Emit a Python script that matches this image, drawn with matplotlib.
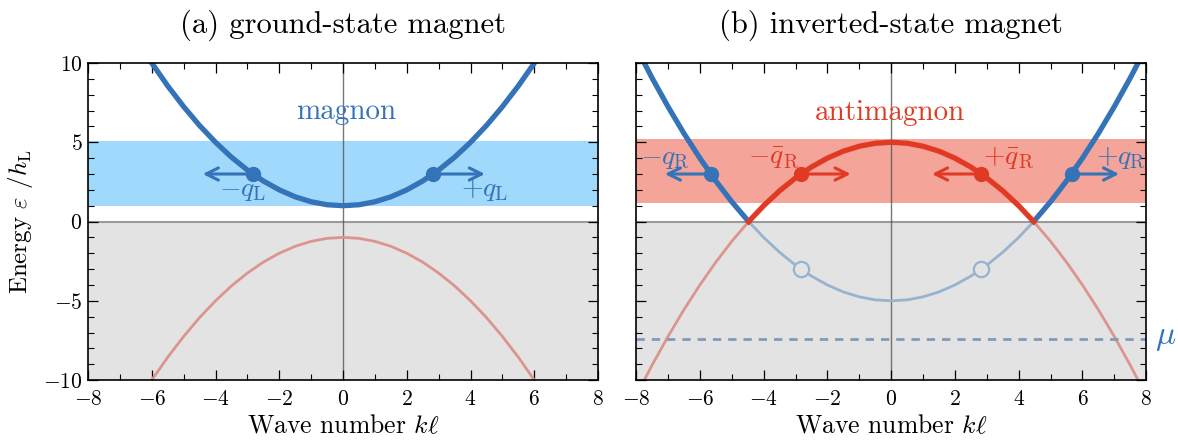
import numpy as np
import matplotlib
matplotlib.use('Agg')
import matplotlib.pyplot as plt
from matplotlib.ticker import MultipleLocator

plt.rcParams['font.family'] = ['cmr10', 'DejaVu Serif']
plt.rcParams['mathtext.fontset'] = 'cm'
plt.rcParams['axes.formatter.use_mathtext'] = True

# ---- data ----
# (a) ground-state magnet
k_left = [-6, -5.5, -5, -4.5, -4, -3.5, -3, -2.5, -2, -1.5, -1, -0.5, 0,
          0.5, 1, 1.5, 2, 2.5, 3, 3.5, 4, 4.5, 5, 5.5, 6]
eps_magnon_left = [10.0, 8.56, 7.25, 6.06, 5.0, 4.06, 3.25, 2.56, 2.0, 1.56, 1.25, 1.06, 1.0,
                   1.06, 1.25, 1.56, 2.0, 2.56, 3.25, 4.06, 5.0, 6.06, 7.25, 8.56, 10.0]
eps_hole_left = [-10.0, -8.56, -7.25, -6.06, -5.0, -4.06, -3.25, -2.56, -2.0, -1.56, -1.25, -1.06, -1.0,
                 -1.06, -1.25, -1.56, -2.0, -2.56, -3.25, -4.06, -5.0, -6.06, -7.25, -8.56, -10.0]
band_left = (1.0, 5.1)
points_left_k = [-2.83, 2.83]
points_left_eps = [3.0, 3.0]

# (b) inverted-state magnet
k_right = [-8, -7.5, -7, -6.5, -6, -5.5, -5, -4.47, -4, -3.5, -3, -2.5, -2, -1.5, -1, -0.5, 0,
           0.5, 1, 1.5, 2, 2.5, 3, 3.5, 4, 4.47, 5, 5.5, 6, 6.5, 7, 7.5, 8]
eps_up_right = [11.0, 9.06, 7.25, 5.56, 4.0, 2.56, 1.25, 0.0, -1.0, -1.94, -2.75, -3.44, -4.0, -4.44, -4.75, -4.94, -5.0,
                -4.94, -4.75, -4.44, -4.0, -3.44, -2.75, -1.94, -1.0, 0.0, 1.25, 2.56, 4.0, 5.56, 7.25, 9.06, 11.0]
eps_down_right = [-11.0, -9.06, -7.25, -5.56, -4.0, -2.56, -1.25, 0.0, 1.0, 1.94, 2.75, 3.44, 4.0, 4.44, 4.75, 4.94, 5.0,
                  4.94, 4.75, 4.44, 4.0, 3.44, 2.75, 1.94, 1.0, 0.0, -1.25, -2.56, -4.0, -5.56, -7.25, -9.06, -11.0]
k_cross = 4.47
band_right = (1.2, 5.2)
mu = -7.4
points_q_k = [-5.66, 5.66]
points_qbar_k = [-2.83, 2.83]
points_up_eps = [3.0, 3.0]
points_hollow_eps = [-3.0, -3.0]

# ---- colours ----
BLUE = '#3473b7'
BLUE_BAND = '#a0d9fb'
BLUE_FAINT = '#98b3d0'
RED = '#e03a24'
RED_BAND = '#f4a498'
RED_FAINT = '#dc958c'
GREY = '#e3e3e3'

fig = plt.figure(figsize=(11.78, 4.44), dpi=100)
ax1 = fig.add_axes([0.0747, 0.144, 0.433, 0.714])
ax2 = fig.add_axes([0.540, 0.144, 0.433, 0.714])


def style(ax):
    ax.set_xlim(-8, 8)
    ax.set_ylim(-10, 10)
    ax.axhspan(-10, 0, color=GREY, zorder=0, lw=0)
    ax.axhline(0, color='#9a9a9a', lw=1.5, zorder=1)
    ax.axvline(0, color='#555555', lw=1.0, alpha=0.8, zorder=1)
    ax.xaxis.set_major_locator(MultipleLocator(2))
    ax.xaxis.set_minor_locator(MultipleLocator(1))
    ax.yaxis.set_major_locator(MultipleLocator(5))
    ax.yaxis.set_minor_locator(MultipleLocator(1))
    ax.tick_params(which='both', direction='in', top=True, right=True, labelsize=15.5)
    ax.tick_params(which='major', length=7, width=0.9)
    ax.tick_params(which='minor', length=4, width=0.8)
    ax.tick_params(axis='x', pad=7)
    ax.tick_params(axis='y', pad=4)
    for s in ax.spines.values():
        s.set_linewidth(1.2)
        s.set_zorder(10)
    ax.set_xlabel(r'Wave number $k\ell$', fontsize=18.5, labelpad=4)


def arrow(ax, start, end, color):
    ax.annotate('', xy=end, xytext=start,
                arrowprops=dict(arrowstyle='->', color=color, lw=2.2,
                                mutation_scale=22, shrinkA=0, shrinkB=0),
                zorder=6)


# ---------- panel (a) ----------
style(ax1)
ax1.axhspan(band_left[0], band_left[1], color=BLUE_BAND, zorder=0.5, lw=0)
ax1.plot(k_left, eps_hole_left, color=RED_FAINT, lw=2, zorder=3)
ax1.plot(k_left, eps_magnon_left, color=BLUE, lw=3.8, zorder=4)
ax1.plot(points_left_k, points_left_eps, 'o', color=BLUE, ms=10, zorder=7)
arrow(ax1, (points_left_k[0], points_left_eps[0]), (-4.4, points_left_eps[0]), BLUE)
arrow(ax1, (points_left_k[1], points_left_eps[1]), (4.45, points_left_eps[1]), BLUE)
ax1.text(-3.15, 2.0, r'$-q_{\mathrm{L}}$', color=BLUE, fontsize=20, ha='center', va='center')
ax1.text(4.45, 2.0, r'$+q_{\mathrm{L}}$', color=BLUE, fontsize=20, ha='center', va='center')
ax1.text(0.1, 6.9, 'magnon', color=BLUE, fontsize=21, ha='center', va='center')
ax1.set_ylabel(r'Energy $\varepsilon$ $/h_{\mathrm{L}}$', fontsize=18, labelpad=6)
ax1.set_title('(a) ground-state magnet', fontsize=22, pad=22)

# ---------- panel (b) ----------
style(ax2)
ax2.axhspan(band_right[0], band_right[1], color=RED_BAND, zorder=0.5, lw=0)
kr = np.array(k_right)
up = np.array(eps_up_right)
down = np.array(eps_down_right)
inner = np.abs(kr) <= k_cross
left_out = kr <= -k_cross
right_out = kr >= k_cross
ax2.plot(kr[inner], up[inner], color=BLUE_FAINT, lw=2, zorder=3)
ax2.plot(kr[left_out], down[left_out], color=RED_FAINT, lw=2, zorder=3)
ax2.plot(kr[right_out], down[right_out], color=RED_FAINT, lw=2, zorder=3)
ax2.plot(kr[left_out], up[left_out], color=BLUE, lw=3.8, zorder=4)
ax2.plot(kr[right_out], up[right_out], color=BLUE, lw=3.8, zorder=4)
ax2.plot(kr[inner], down[inner], color=RED, lw=3.8, zorder=4)
ax2.axhline(mu, color='#7e9bbb', lw=2, ls=(0, (3, 2.5)), zorder=3)
ax2.plot(points_qbar_k, points_hollow_eps, 'o', ms=11, mfc=GREY, mec=BLUE_FAINT, mew=1.6, zorder=7)
ax2.plot(points_q_k, points_up_eps, 'o', color=BLUE, ms=10, zorder=7)
ax2.plot(points_qbar_k, points_up_eps, 'o', color=RED, ms=10, zorder=7)
arrow(ax2, (points_q_k[0], 3.0), (-7.1, 3.0), BLUE)
arrow(ax2, (points_q_k[1], 3.0), (7.15, 3.0), BLUE)
arrow(ax2, (points_qbar_k[0], 3.0), (-1.27, 3.0), RED)
arrow(ax2, (points_qbar_k[1], 3.0), (1.28, 3.0), RED)
ax2.text(-7.1, 4.0, r'$-q_{\mathrm{R}}$', color=BLUE, fontsize=20, ha='center', va='center')
ax2.text(7.2, 4.0, r'$+q_{\mathrm{R}}$', color=BLUE, fontsize=20, ha='center', va='center')
ax2.text(-3.7, 4.0, r'$-\bar{q}_{\mathrm{R}}$', color=RED, fontsize=20, ha='center', va='center')
ax2.text(3.7, 4.0, r'$+\bar{q}_{\mathrm{R}}$', color=RED, fontsize=20, ha='center', va='center')
ax2.text(-0.05, 6.85, 'antimagnon', color=RED, fontsize=21, ha='center', va='center')
ax2.text(8.6, mu, r'$\mu$', color=BLUE, fontsize=24, ha='center', va='center', clip_on=False)
ax2.tick_params(labelleft=False)
ax2.set_title('(b) inverted-state magnet', fontsize=22, pad=22)

fig.savefig('out.png', dpi=100)
